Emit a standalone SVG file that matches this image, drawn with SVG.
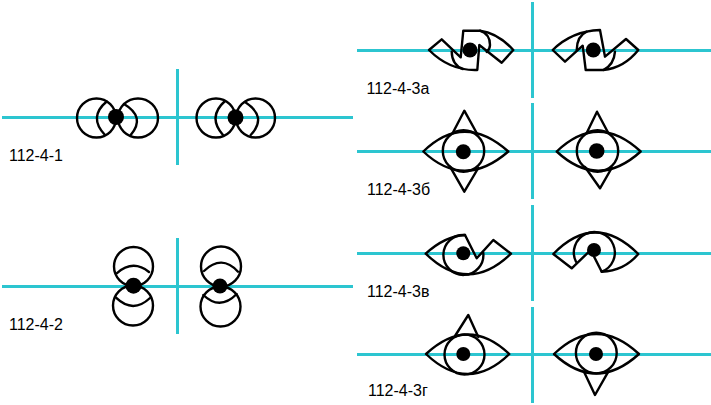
<svg xmlns="http://www.w3.org/2000/svg" width="711" height="405" viewBox="0 0 711 405">
<style>
.axis{stroke:#2cc5d0;stroke-width:3;fill:none}
.s{stroke:#000;stroke-width:2.400;fill:none;stroke-linejoin:round;stroke-linecap:round}
.d{fill:#000}
text{font-family:"Liberation Sans",Arial,sans-serif;font-size:16px;fill:#000}
</style>
<rect width="711" height="405" fill="#fff"/>
<g id="axes">
<path class="axis" d="M2 117.500H353M177.500 69V165M2 286.500H353M177.500 238V334M357 50.500H711M532.500 2V98M357 151.500H711M532.500 103V199M357 253.500H711M532.500 205V301M357 354.500H711M532.500 307V403"/>
</g>
<g id="fig-112-4-1">
<circle class="s" cx="96.500" cy="118" r="19.500"/><ellipse class="s" cx="138" cy="118" rx="20" ry="19.500"/>
<path class="s" d="M106.700 101.500Q88 117 105 135M124 104Q146 117 130.700 135"/>
<circle class="s" cx="216" cy="118" r="19.500"/><circle class="s" cx="255.500" cy="118" r="19.500"/>
<path class="s" d="M225 101Q207 117 223 135M245 102Q268 117 250.700 135"/>
<circle class="d" cx="116" cy="117" r="8"/><circle class="d" cx="235.500" cy="117.500" r="8"/>
<text x="9" y="161">112-4-1</text>
</g>
<g id="fig-112-4-2">
<circle class="s" cx="133.500" cy="266.500" r="19.500"/><circle class="s" cx="133" cy="305.500" r="20"/>
<path class="s" d="M116.700 273.300Q133 259 149 272M116 297.700Q133 314 150 298"/>
<circle class="s" cx="221" cy="266.500" r="20"/><circle class="s" cx="220.500" cy="306.500" r="20"/>
<path class="s" d="M204 271Q221.700 254 238 271.700M203.300 295Q220 311 236.700 294"/>
<circle class="d" cx="133.500" cy="285.700" r="8"/><circle class="d" cx="220" cy="286" r="7.500"/>
<text x="9" y="330">112-4-2</text>
</g>
<g id="fig-112-4-3a">
<path class="s" d="M429 50L441.700 39.300L460.700 57.300L463.300 30.700H480Q498 33 513.300 50L501.700 62.700L479.300 45L477.300 70Q450 71 429 50Z"/>
<path class="s" d="M480 30.700Q490 34 490 45Q490 49 486.700 52M451.700 51.700Q452 65 463 69"/>
<path class="s" d="M552.700 50L565 61.700L582.700 45.700L585.700 70H603.300Q624 68 638.300 50L626 39L605 56.700L600 30Q572 31 552.700 50Z"/>
<path class="s" d="M576.700 50Q577 36 586.700 31.700M615 51.700Q614 65 603.300 70"/>
<circle class="d" cx="470" cy="50" r="7.500"/><circle class="d" cx="593.300" cy="50" r="7.500"/>
<text x="366.500" y="94">112-4-3а</text>
</g>
<g id="fig-112-4-3b">
<path class="s" d="M423.300 151.500Q464 112 508.300 151.500Q464 190 423.300 151.500Z"/>
<circle class="s" cx="463.500" cy="151" r="20.700"/>
<path class="s" d="M452.700 133L464.300 110.700L476.700 133M450 166.700L464.300 191.700L478.300 168"/>
<path class="s" d="M556.700 151.500Q598 112 640.700 151.500Q598 190 556.700 151.500Z"/>
<circle class="s" cx="597.500" cy="151" r="20.700"/>
<path class="s" d="M586.700 133L597 111.700L608.300 133M585 167L600 188.300L611.700 168"/>
<circle class="d" cx="463.300" cy="151.700" r="7.500"/><circle class="d" cx="596.700" cy="151" r="7.800"/>
<text x="367" y="195">112-4-3б</text>
</g>
<g id="fig-112-4-3v">
<path class="s" d="M425.700 253.700Q445 236 465 235L476.700 258.300L493.300 240L511 253.700Q468 295 425.700 253.700Z"/>
<path class="s" d="M465 235A20 20 0 1 0 483.300 253"/>
<path class="s" d="M553.300 254L571.700 268.300L590.700 250L601.700 271.700Q624 271 638.300 254Q595 211 553.300 254Z"/>
<path class="s" d="M576 261.700A20.500 20.500 0 1 1 601.700 271.700"/>
<circle class="d" cx="463.300" cy="253.300" r="7"/><circle class="d" cx="594" cy="250" r="7"/>
<text x="367" y="297">112-4-3в</text>
</g>
<g id="fig-112-4-3g">
<path class="s" d="M426 354Q468 315 509.300 354Q468 394 426 354Z"/>
<circle class="s" cx="464.500" cy="354.500" r="20"/>
<path class="s" d="M455 336L468.300 315L478.300 337"/>
<path class="s" d="M554 354Q596 314 639 354Q596 393 554 354Z"/>
<circle class="s" cx="596.300" cy="353" r="20.400"/>
<path class="s" d="M584 371.700L595 395L608.300 371.700"/>
<circle class="d" cx="463.300" cy="354" r="7"/><circle class="d" cx="596" cy="354" r="7"/>
<text x="368" y="395.500">112-4-3г</text>
</g>
</svg>
